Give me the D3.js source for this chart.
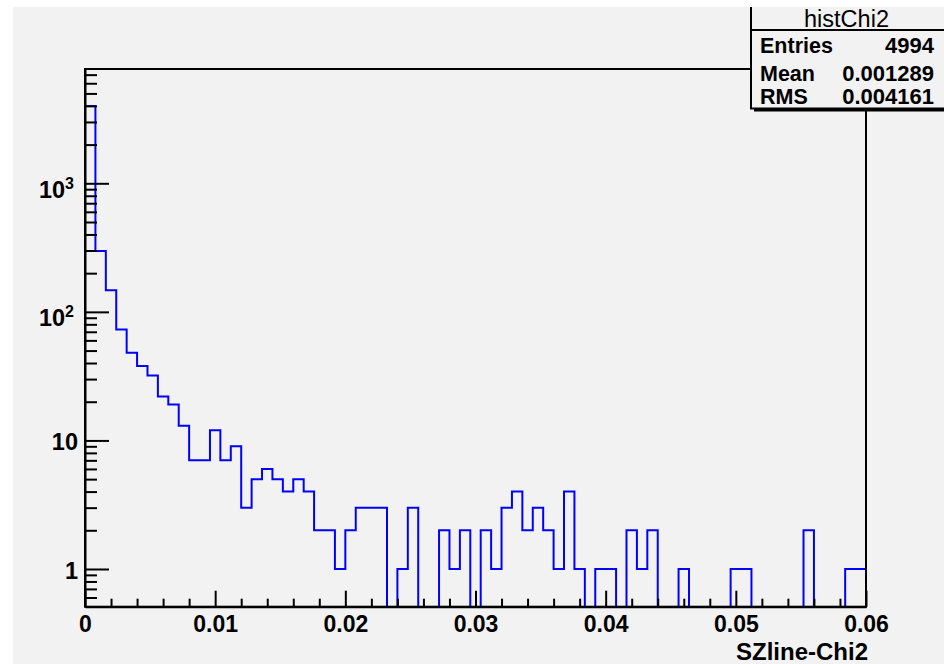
<!DOCTYPE html>
<html>
<head>
<meta charset="utf-8">
<script src="https://cdn.jsdelivr.net/npm/d3@7"></script>
<style>
  html, body { margin: 0; padding: 0; background: #ffffff; }
  svg { display: block; }
  text { font-family: "Liberation Sans", Arial, Helvetica, sans-serif; }
</style>
</head>
<body>
<svg id="chart" width="944" height="664"></svg>
<script>
// ---- data ----
const histName = "histChi2";
const xTitle = "SZline-Chi2";
const xMin = 0, xMax = 0.06;
const binWidth = 0.0008;
const binCounts = [
  4000, 297, 147, 73, 48, 38, 32, 22, 19, 13,
  7, 7, 12, 7, 9, 3, 5, 6, 5, 4,
  5, 4, 2, 2, 1, 2, 3, 3, 3, 0,
  1, 3, 0, 0, 2, 1, 2, 0, 2, 1,
  3, 4, 2, 3, 2, 1, 4, 1, 0, 1,
  1, 0, 2, 1, 2, 0, 0, 1, 0, 0,
  0, 0, 1, 1, 0, 0, 0, 0, 0, 2,
  0, 0, 0, 1, 1
];
const xMajorTicks = [0, 0.01, 0.02, 0.03, 0.04, 0.05, 0.06];
const xTickLabels = ["0", "0.01", "0.02", "0.03", "0.04", "0.05", "0.06"];
const xMinorTicks = [0.002,0.004,0.006,0.008,0.012,0.014,0.016,0.018,0.022,0.024,0.026,0.028,
                     0.032,0.034,0.036,0.038,0.042,0.044,0.046,0.048,0.052,0.054,0.056,0.058];
const yMajorTicks = [1, 10, 100, 1000];
const yMinorTicks = [0.6,0.7,0.8,0.9,2,3,4,5,6,7,8,9,20,30,40,50,60,70,80,90,
                     200,300,400,500,600,700,800,900,2000,3000,4000,5000,6000,7000];
const yDomain = [0.509, 7745];
const statLabels = ["Entries", "Mean", "RMS"];
const statValues = ["4994", "0.001289", "0.004161"];

// ---- layout ----
const W = 944, H = 664;
const L = 85, R = 866, T = 69, B = 606.7;
const svg = d3.select("#chart");

svg.append("rect").attr("x", 0).attr("y", 0).attr("width", W).attr("height", H).attr("fill", "#ffffff");
svg.append("rect").attr("x", 13).attr("y", 7).attr("width", W - 13).attr("height", H - 7).attr("fill", "#f2f2f2");

const x = d3.scaleLinear().domain([xMin, xMax]).range([L, R]);
const y = d3.scaleLog().domain(yDomain).range([B, T]);

// clip
svg.append("defs").append("clipPath").attr("id", "frameclip")
  .append("rect").attr("x", L).attr("y", T).attr("width", R - L).attr("height", B - T);

// histogram step path
const yv = v => v > 0 ? y(v) : B + 5;
let d = `M${x(0)},${B + 5}`;
binCounts.forEach((c, i) => {
  const x0 = x(xMin + i * binWidth), x1 = x(xMin + (i + 1) * binWidth);
  d += `L${x0},${yv(c)}L${x1},${yv(c)}`;
});
d += `L${x(xMax)},${B + 5}`;
svg.append("path").attr("d", d).attr("fill", "none").attr("stroke", "#0000ff")
  .attr("stroke-width", 2).attr("clip-path", "url(#frameclip)");

// frame
svg.append("rect").attr("x", L).attr("y", T).attr("width", R - L).attr("height", B - T)
  .attr("fill", "none").attr("stroke", "#000").attr("stroke-width", 2);

// x axis
const xAxisMajor = d3.axisBottom(x).tickValues(xMajorTicks)
  .tickFormat((v, i) => xTickLabels[i]).tickSizeInner(-16).tickSizeOuter(0).tickPadding(8.7);
const gx = svg.append("g").attr("transform", `translate(0,${B})`).call(xAxisMajor);
gx.select(".domain").attr("stroke", "#000").attr("stroke-width", 2);
gx.selectAll(".tick line").attr("stroke", "#000").attr("stroke-width", 2);
gx.selectAll(".tick text").attr("font-size", "23px").attr("font-weight", "bold").attr("fill", "#000")
  .attr("font-family", "Liberation Sans, Arial, sans-serif");
const xAxisMinor = d3.axisBottom(x).tickValues(xMinorTicks).tickFormat("").tickSizeInner(-8).tickSizeOuter(0);
const gxm = svg.append("g").attr("transform", `translate(0,${B})`).call(xAxisMinor);
gxm.select(".domain").remove();
gxm.selectAll(".tick line").attr("stroke", "#000").attr("stroke-width", 2);

// y axis
const yAxisMajor = d3.axisLeft(y).tickValues(yMajorTicks).tickFormat(v => String(v))
  .tickSizeInner(-24).tickSizeOuter(0).tickPadding(7);
const gy = svg.append("g").attr("transform", `translate(${L},0)`).call(yAxisMajor);
gy.select(".domain").attr("stroke", "#000").attr("stroke-width", 2);
gy.selectAll(".tick line").attr("stroke", "#000").attr("stroke-width", 2);
gy.selectAll(".tick text").attr("font-size", "23.5px").attr("font-weight", "bold").attr("fill", "#000")
  .attr("font-family", "Liberation Sans, Arial, sans-serif")
  .each(function(v) {
    const t = d3.select(this);
    if (v >= 100) {
      const e = Math.round(Math.log10(v));
      t.text(null).attr("dy", null).attr("y", 14).attr("x", -11);
      t.append("tspan").text("10");
      t.append("tspan").text(String(e)).attr("font-size", "16px").attr("dy", -9);
    } else {
      t.attr("dy", null).attr("y", 9.5).attr("x", -7);
    }
  });
const yAxisMinor = d3.axisLeft(y).tickValues(yMinorTicks).tickFormat("").tickSizeInner(-12).tickSizeOuter(0);
const gym = svg.append("g").attr("transform", `translate(${L},0)`).call(yAxisMinor);
gym.select(".domain").remove();
gym.selectAll(".tick line").attr("stroke", "#000").attr("stroke-width", 2);

// x title
svg.append("text").attr("x", 868).attr("y", 660).attr("text-anchor", "end")
  .attr("font-size", "24px").attr("font-weight", "bold").attr("fill", "#000").text(xTitle);

// stats box
const bx = 751, by = 3, bw = 230, bh = 105.5;
svg.append("rect").attr("x", bx + 3).attr("y", by + 3).attr("width", bw).attr("height", bh).attr("fill", "#000");
svg.append("rect").attr("x", bx).attr("y", by).attr("width", bw).attr("height", bh)
  .attr("fill", "#f2f2f2").attr("stroke", "#000").attr("stroke-width", 2);
svg.append("line").attr("x1", bx).attr("x2", bx + bw).attr("y1", 30).attr("y2", 30)
  .attr("stroke", "#000").attr("stroke-width", 2);
svg.append("text").attr("x", 846.5).attr("y", 26.5).attr("text-anchor", "middle")
  .attr("font-size", "23.5px").attr("fill", "#000").text(histName);
const rowY = [53, 80.5, 104];
statLabels.forEach((s, i) => {
  svg.append("text").attr("x", 760).attr("y", rowY[i]).attr("font-size", "21.5px").attr("font-weight", "bold")
    .attr("fill", "#000").text(s);
  svg.append("text").attr("x", 934).attr("y", rowY[i]).attr("text-anchor", "end").attr("font-size", "22px")
    .attr("font-weight", "bold").attr("fill", "#000").text(statValues[i]);
});

// outer white margin
svg.append("rect").attr("x", 0).attr("y", 0).attr("width", W).attr("height", 7).attr("fill", "#ffffff");
svg.append("rect").attr("x", 0).attr("y", 0).attr("width", 13).attr("height", H).attr("fill", "#ffffff");
</script>
</body>
</html>
